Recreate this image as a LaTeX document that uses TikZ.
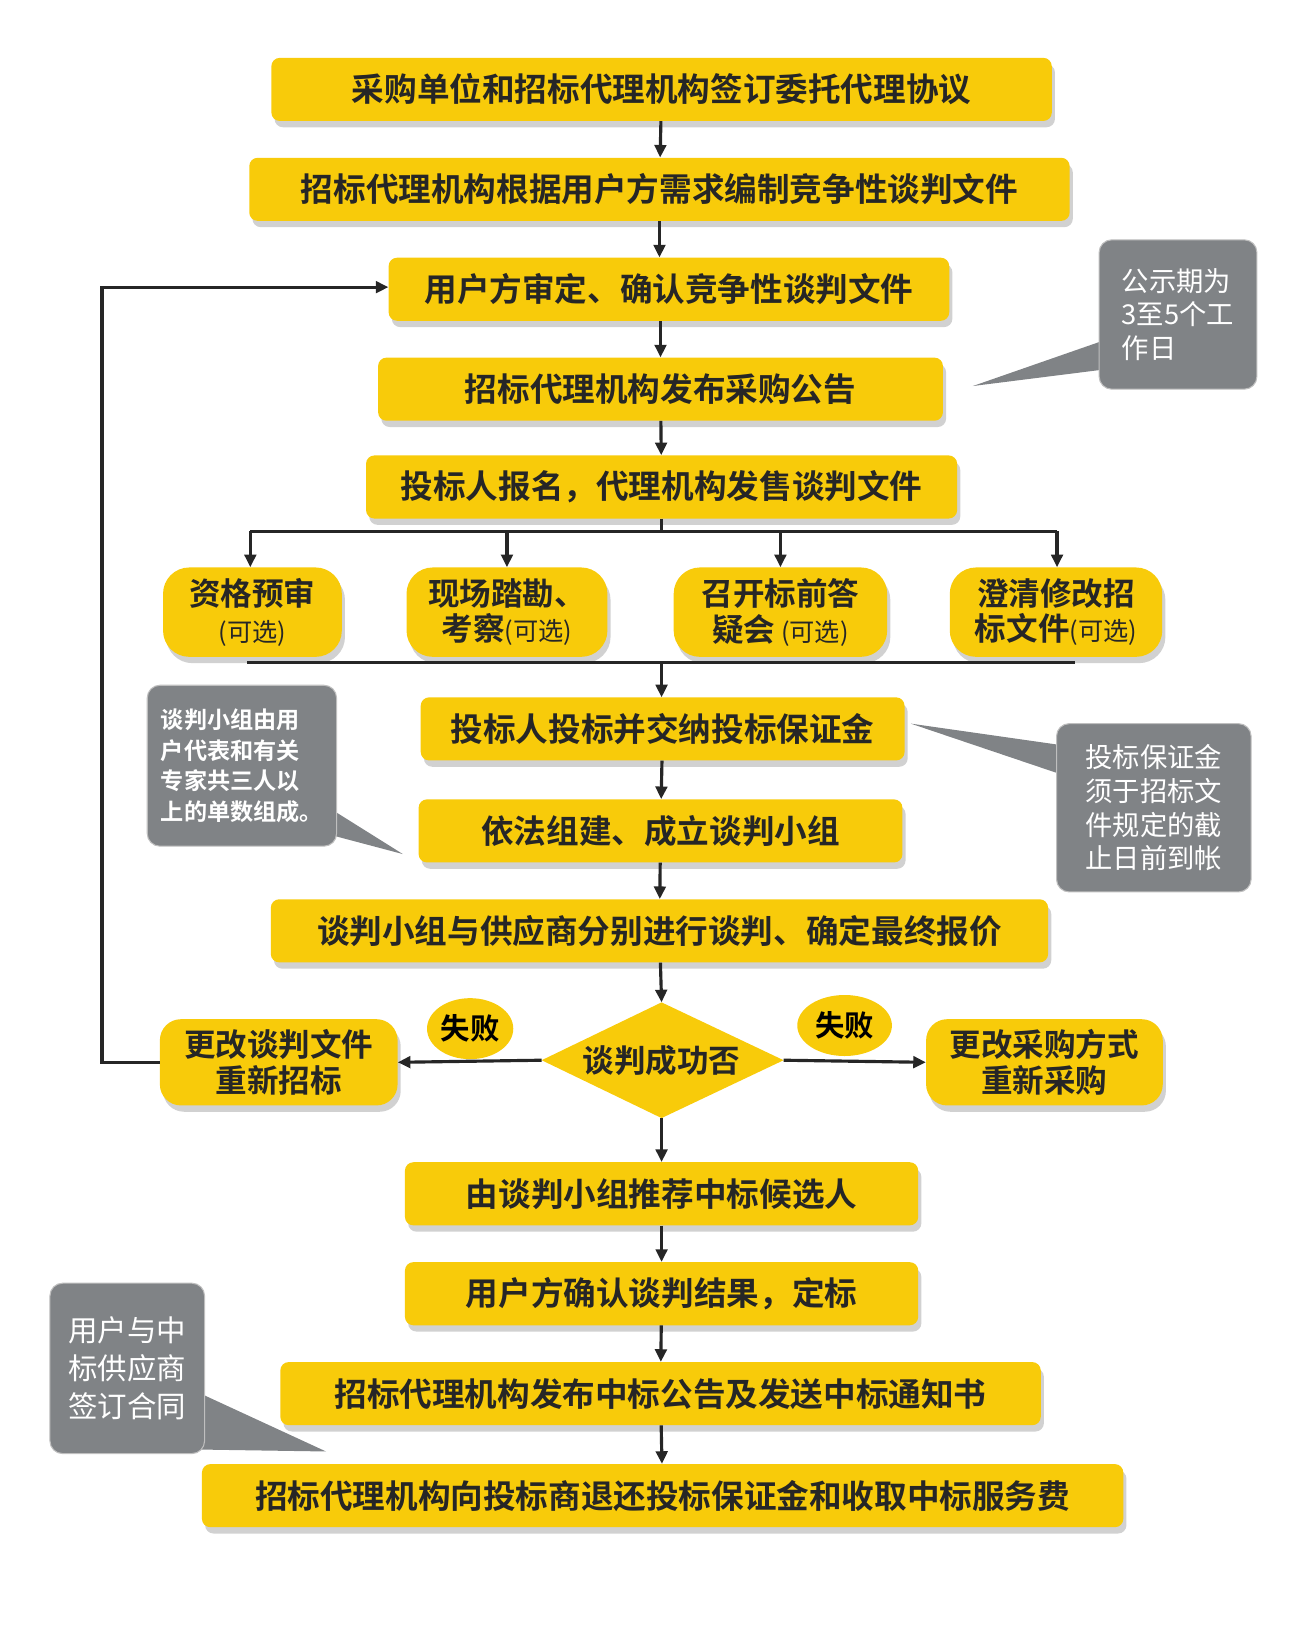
\documentclass[tikz,border=0pt]{standalone}
\usepackage{fontspec}
\newfontfamily\cjk{Noto Sans CJK SC Bold}
\newfontfamily\cjkr{Noto Sans CJK SC}
\usetikzlibrary{shapes.geometric,arrows.meta,shadows}
\definecolor{yel}{HTML}{F8CB0A}
\definecolor{cg}{HTML}{808386}
\begin{document}
\begin{tikzpicture}[x=1pt,y=-1pt,
 box/.style={fill=yel,rounded corners=8pt,minimum height=60pt,font=\cjk\fontsize{31}{33}\selectfont,text=black!85,inner sep=0pt,
   drop shadow={shadow xshift=3pt,shadow yshift=-6pt,fill=black!30,opacity=.6}},
 sm/.style={box,rounded corners=25pt,minimum height=85pt,align=center,font=\cjk\fontsize{30}{34}\selectfont},
 ar/.style={-{Triangle[length=12pt,width=11pt]},line width=3pt,black!85},
 ln/.style={line width=3pt,black!85},
 co/.style={fill=cg,draw=black!25,line width=1pt,rounded corners=12pt},
 ct/.style={text=white,align=left,font=\cjkr\fontsize{26}{32}\selectfont,inner sep=0pt}]
\useasboundingbox (0,0) rectangle (1240,1564);
\node[box,minimum width=742pt] (b1) at (629,85) {采购单位和招标代理机构签订委托代理协议};
\node[box,minimum width=780pt] (b2) at (627,180) {招标代理机构根据用户方需求编制竞争性谈判文件};
\node[box,minimum width=533pt] (b3) at (636,275) {用户方审定、确认竞争性谈判文件};
\node[box,minimum width=537pt] (b4) at (628,370) {招标代理机构发布采购公告};
\node[box,minimum width=562pt] (b5) at (629,463) {投标人报名，代理机构发售谈判文件};
\node[sm,minimum width=170pt] (s1) at (240,582) {资格预审\\{\cjkr\fontsize{24}{24}\selectfont (可选)}};
\node[sm,minimum width=191pt] (s2) at (482,582) {现场踏勘、\\考察{\cjkr\fontsize{24}{24}\selectfont (可选)}};
\node[sm,minimum width=203pt] (s3) at (742,582) {召开标前答\\疑会{\cjkr\fontsize{24}{24}\selectfont\ (可选)}};
\node[sm,minimum width=202pt] (s4) at (1004,582) {澄清修改招\\标文件{\cjkr\fontsize{24}{24}\selectfont (可选)}};
\node[box,minimum width=460pt] (b6) at (630,693) {投标人投标并交纳投标保证金};
\node[box,minimum width=460pt] (b7) at (628,790) {依法组建、成立谈判小组};
\node[box,minimum width=739pt] (b8) at (627,885) {谈判小组与供应商分别进行谈判、确定最终报价};
\coordinate (dw) at (515,1008); \coordinate (de) at (745,1008);
\coordinate (dn) at (629,953); \coordinate (ds) at (629,1063);
\fill[yel] (dw) -- (dn) -- (de) -- (ds) -- cycle;
\node[font=\cjk\fontsize{30}{32}\selectfont,text=black!85,inner sep=0pt] (d) at (629,1008) {谈判成功否};
\node[sm,minimum width=226pt,minimum height=82pt,rounded corners=20pt] (L) at (265,1010) {更改谈判文件\\重新招标};
\node[sm,minimum width=225pt,minimum height=82pt,rounded corners=20pt] (R) at (993,1010) {更改采购方式\\重新采购};
\node[ellipse,fill=yel,minimum width=82pt,minimum height=58pt,inner sep=0pt,font=\cjk\fontsize{28}{30}\selectfont] (f1) at (447,978) {失败};
\node[ellipse,fill=yel,minimum width=90pt,minimum height=58pt,inner sep=0pt,font=\cjk\fontsize{28}{30}\selectfont] (f2) at (803,975) {失败};
\node[box,minimum width=488pt] (b9) at (629,1135) {由谈判小组推荐中标候选人};
\node[box,minimum width=488pt] (b10) at (629,1230) {用户方确认谈判结果，定标};
\node[box,minimum width=723pt] (b11) at (628,1325) {招标代理机构发布中标公告及发送中标通知书};
\node[box,minimum width=876pt] (b12) at (630,1422) {招标代理机构向投标商退还投标保证金和收取中标服务费};
% arrows
\draw[ar] (b1) -- (b2);
\draw[ar] (b2) -- (b3.north -| b2.south);
\draw[ar] (b3.south -| b4.north) -- (b4);
\draw[ar] (b4) -- (b5);
\coordinate (t1) at (238,505); \coordinate (t4) at (1005,505);
\draw[ln] (b5.south) -- (629,505);
\draw[ln] (t1) -- (t4);
\draw[ar] (t1) -- (t1 |- s1.north);
\draw[ar] (482,505) -- (s2.north);
\draw[ar] (742,505) -- (s3.north);
\draw[ar] (t4) -- (t4 |- s4.north);
\coordinate (u1) at (235,630); \coordinate (u4) at (1022,630);
\draw[ln] (u1) -- (u4);
\draw[ar] (629,630) -- (629,663);
\draw[ar] (b6) -- (b7);
\draw[ar] (b7) -- (b8);
\draw[ar] (b8) -- (dn);
\draw[ar] (dw) -- (L.east);
\draw[ar] (de) -- (R.west);
\draw[ar] (ds) -- (b9);
\draw[ar] (b9) -- (b10);
\draw[ar] (b10) -- (b11);
\draw[ar] (b11) -- (b12);
\coordinate (lp1) at (97,1010); \coordinate (lp2) at (97,273);
\draw[ar] (L.west) -- (lp1) -- (lp2) -- (b3.west |- lp2);
% callouts
\fill[cg] (1060,320) -- (925,367) -- (1060,350) -- cycle;
\node[co,minimum width=150pt,minimum height=142pt] (c1) at (1120,299) {};
\node[ct] at (c1) {公示期为\\3至5个工\\作日};
\fill[cg] (300,760) -- (383,812) -- (300,790) -- cycle;
\node[co,minimum width=180pt,minimum height=153pt] (c2) at (230,728) {};
\node[ct,font=\cjk\fontsize{22}{29}\selectfont] at (c2) {谈判小组由用\\户代表和有关\\专家共三人以\\上的单数组成。};
\fill[cg] (1020,740) -- (866,688) -- (1020,710) -- cycle;
\node[co,minimum width=185pt,minimum height=160pt] (c3) at (1097,768) {};
\node[ct] at (c3) {投标保证金\\须于招标文\\件规定的截\\止日前到帐};
\fill[cg] (180,1320) -- (310,1380) -- (180,1378) -- cycle;
\node[co,minimum width=147pt,minimum height=162pt] (c4) at (121,1301) {};
\node[ct,font=\cjkr\fontsize{28}{36}\selectfont] at (c4) {用户与中\\标供应商\\签订合同};
\end{tikzpicture}
\end{document}
